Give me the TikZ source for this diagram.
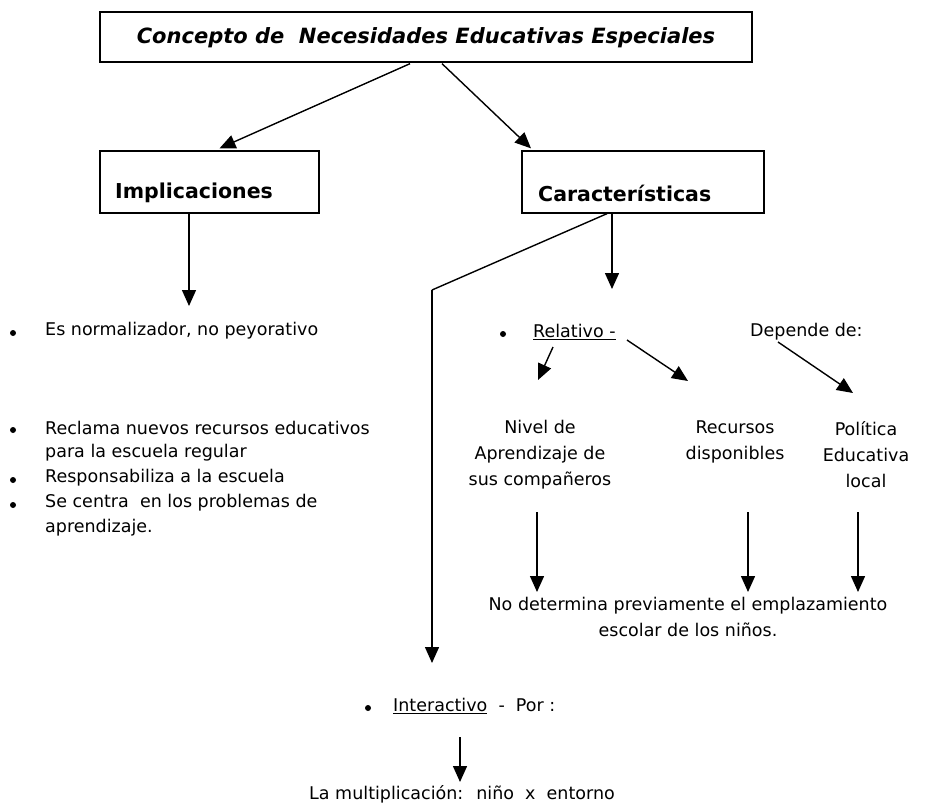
\documentclass[tikz,border=0pt]{standalone}
\usepackage{fontspec}
\setmainfont{DejaVu Sans}
\usetikzlibrary{arrows.meta,calc}
\tikzset{
  box/.style={draw, line width=1.3pt, inner sep=0pt},
  txt/.style={font=\fontsize{17.5}{26}\selectfont, inner sep=0pt, align=center},
  head/.style={font=\fontsize{20.5}{24}\selectfont\bfseries, inner sep=0pt},
  con/.style={line width=1.4pt, -{Triangle[length=16pt,width=14pt]}},
  plain/.style={line width=1.4pt},
  dot/.style={circle, fill, inner sep=0pt, minimum size=6pt}
}
\begin{document}
\begin{tikzpicture}[x=1pt,y=-1pt]
\useasboundingbox (0,0) rectangle (925,804);

% title box
\node[box, minimum width=652pt, minimum height=50pt] (top) at (426,37) {};
\node[inner sep=0pt, font=\fontsize{21}{24}\selectfont\bfseries\itshape] (toptxt) at (426,38)
  {Concepto de \ Necesidades Educativas Especiales};

% second level boxes
\node[box, minimum width=219pt, minimum height=62pt] (impl) at (209.5,182) {};
\node[head, anchor=west] (impltxt) at (115,193) {Implicaciones};
\node[box, minimum width=242pt, minimum height=62pt] (car) at (643,182) {};
\node[head, anchor=west] (cartxt) at (538,193) {Características};

\draw[con] ($(top.south)+(-16,1)$) -- ($(impl.north)+(10,-2)$);
\draw[con] ($(top.south)+(16,1)$) -- ($(car.north)+(-112,-2)$);

% Implicaciones list
\draw[con] ($(impl.south)+(-20.5,0)$) -- (189,306);
\node[dot] (b1) at (13,333) {};
\node[txt, anchor=west] (i1) at (45,331) {Es normalizador, no peyorativo};
\node[dot] (b2) at (13,430) {};
\node[txt, anchor=west] (i2) at (45,428) {Reclama nuevos recursos educativos};
\node[txt, anchor=west] (i2b) at (45,453) {para la escuela regular};
\node[dot] (b3) at (13,480) {};
\node[txt, anchor=west] (i3) at (45,478) {Responsabiliza a la escuela};
\node[dot] (b4) at (13,505) {};
\node[txt, anchor=west] (i4) at (45,503) {Se centra \ en los problemas de};
\node[txt, anchor=west] (i4b) at (45,528) {aprendizaje.};

% Características branches
\draw[con] ($(car.south)+(-31,0)$) -- (612,289);
\coordinate (bend) at (432,290);
\draw[plain] ($(car.south)+(-36,0)$) -- (bend);
\draw[con] (bend) -- (432,663);

% Relativo
\node[dot] (b5) at (503,334) {};
\node[txt, anchor=west] (rel) at (533,332) {\underline{Relativo -}};
\node[txt, anchor=west] (dep) at (750,332) {Depende de:};
\draw[con] (553,347) -- (538,380);
\draw[con] (627,340) -- (688,381);
\draw[con] (778,342) -- (853,393);

\node[txt] (nivel) at (540,455) {Nivel de\\Aprendizaje de\\sus compañeros};
\node[txt] (recur) at (735,442) {Recursos\\disponibles};
\node[txt] (pol) at (866,455) {Política\\Educativa\\local};

\draw[con] (537,512) -- (537,592);
\draw[con] (748,512) -- (748,592);
\draw[con] (858,512) -- (858,592);

\node[txt] (nodet) at (688,617) {No determina previamente el emplazamiento\\escolar de los niños.};

% Interactivo
\node[dot] (b6) at (368,708) {};
\node[txt, anchor=west] (inter) at (393,706) {\underline{Interactivo} \ - \ Por :};
\draw[con] (460,737) -- (460,782);
\node[txt] (mult) at (462,794) {La multiplicación: \ niño \ x \ entorno};
\end{tikzpicture}
\end{document}
